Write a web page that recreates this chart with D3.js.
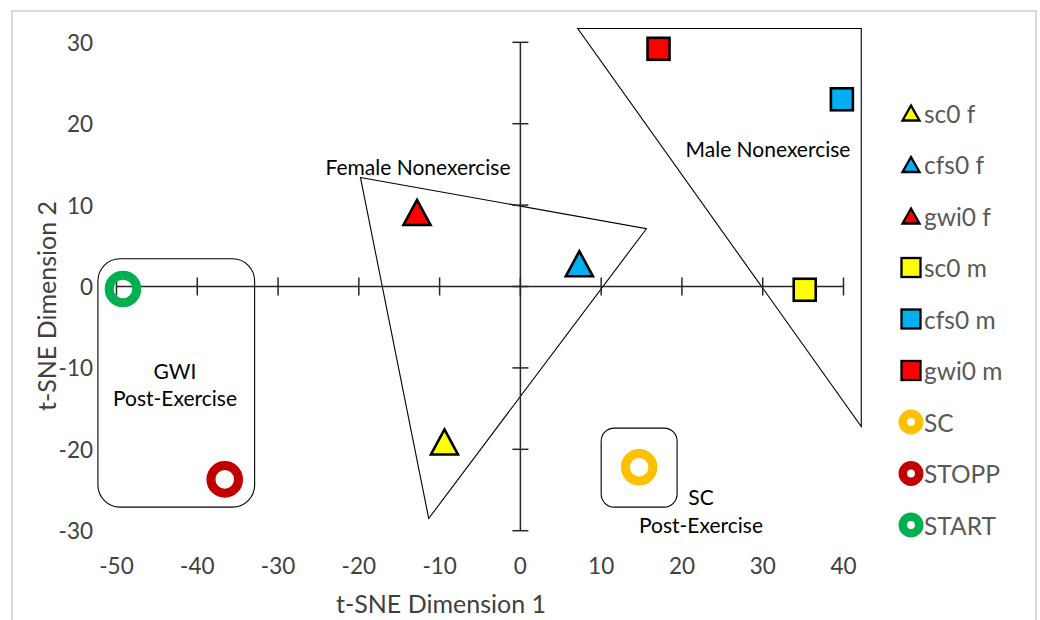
<!DOCTYPE html>
<html>
<head>
<meta charset="utf-8">
<script src="https://cdn.jsdelivr.net/npm/d3@7"></script>
<style>
  html, body { margin: 0; padding: 0; background: #fff; }
  svg { display: block; }
  text { font-family: Lato, "Open Sans", sans-serif; }
</style>
</head>
<body>
<svg id="chart" width="1040" height="620"></svg>
<script>
// t-SNE embedding of group centroids
const seriesNames = ["sc0 f", "cfs0 f", "gwi0 f", "sc0 m", "cfs0 m", "gwi0 m", "SC", "STOPP", "START"];
const dim1Values  = [-9.4, 7.3, -12.8, 35.2, 39.8, 17.1, 14.7, -36.6, -49.2];
const dim2Values  = [-19.1, 2.8, 9.1, -0.4, 23.0, 29.2, -22.2, -23.7, -0.3];
const markerKinds = ["triangle", "triangle", "triangle", "square", "square", "square", "ring", "ring", "ring"];
const markerColors = ["#FFFF00", "#00B0F0", "#FF0000", "#FFFF00", "#00B0F0", "#FF0000", "#FFC000", "#C00000", "#00B050"];

const xTickValues = [-50, -40, -30, -20, -10, 0, 10, 20, 30, 40];
const yTickValues = [-30, -20, -10, 0, 10, 20, 30];

// Grouping outlines, in data units
const femaleRegion = [[-19.8, 13.4], [15.6, 7.1], [-11.35, -28.5]];
const maleRegion   = [[7.1, 31.7], [42.2, 31.7], [42.2, -17.2]];
const gwiBox = { x0: -52.3, x1: -32.9, y0: 3.4, y1: -27.1 };
const scBox  = { x0: 10.0, x1: 19.4, y0: -17.4, y1: -27.1 };

const svg = d3.select("#chart");

// Outer chart frame
svg.append("rect")
  .attr("x", 12).attr("y", 11).attr("width", 1024).attr("height", 640)
  .attr("fill", "#fff").attr("stroke", "#d9d9d9").attr("stroke-width", 2);

const x = d3.scaleLinear().domain([-50, 40]).range([116.5, 843.5]);
const y = d3.scaleLinear().domain([-30, 30]).range([530.7, 42.3]);

const axisColor = "#262626";

// Region outlines
const lineGen = d3.line().x(d => x(d[0])).y(d => y(d[1]));
svg.append("path")
  .attr("d", lineGen(femaleRegion) + "Z")
  .attr("fill", "none").attr("stroke", "#000").attr("stroke-width", 1.1);
svg.append("path")
  .attr("d", lineGen(maleRegion) + "Z")
  .attr("fill", "none").attr("stroke", "#000").attr("stroke-width", 1.1);

// Horizontal axis through y = 0, ticks crossing the line
const xAxis = svg.append("g").attr("transform", `translate(0,${y(0)})`);
xAxis.append("line")
  .attr("x1", x(-50)).attr("x2", x(40))
  .attr("stroke", axisColor).attr("stroke-width", 1.5);
xAxis.selectAll("line.tick").data(xTickValues).join("line")
  .attr("class", "tick")
  .attr("x1", d => x(d)).attr("x2", d => x(d))
  .attr("y1", -9).attr("y2", 9)
  .attr("stroke", axisColor).attr("stroke-width", 1.5);

// Vertical axis through x = 0
const yAxis = svg.append("g").attr("transform", `translate(${x(0)},0)`);
yAxis.append("line")
  .attr("y1", y(-30)).attr("y2", y(30))
  .attr("stroke", axisColor).attr("stroke-width", 1.5);
yAxis.selectAll("line.tick").data(yTickValues).join("line")
  .attr("class", "tick")
  .attr("y1", d => y(d)).attr("y2", d => y(d))
  .attr("x1", -8).attr("x2", 8)
  .attr("stroke", axisColor).attr("stroke-width", 1.5);

// Tick labels along the bottom and the left edge
svg.append("g").selectAll("text").data(xTickValues).join("text")
  .attr("x", d => x(d)).attr("y", 565)
  .attr("text-anchor", "middle").attr("dominant-baseline", "central")
  .attr("font-size", 22.5).attr("fill", "#404040")
  .text(d => d);
svg.append("g").selectAll("text").data(yTickValues).join("text")
  .attr("x", 93).attr("y", d => y(d))
  .attr("text-anchor", "end").attr("dominant-baseline", "central")
  .attr("font-size", 22.5).attr("fill", "#404040")
  .text(d => d);

// Axis titles
svg.append("text")
  .attr("x", 441).attr("y", 603)
  .attr("text-anchor", "middle").attr("dominant-baseline", "central")
  .attr("font-size", 25).attr("fill", "#404040")
  .text("t-SNE Dimension 1");
svg.append("text")
  .attr("transform", "translate(46,306) rotate(-90)")
  .attr("text-anchor", "middle").attr("dominant-baseline", "central")
  .attr("font-size", 25).attr("fill", "#404040")
  .text("t-SNE Dimension 2");

// Rounded boxes for post-exercise groups
function roundBox(b, r) {
  svg.append("rect")
    .attr("x", x(b.x0)).attr("y", y(b.y0))
    .attr("width", x(b.x1) - x(b.x0)).attr("height", y(b.y1) - y(b.y0))
    .attr("rx", r).attr("ry", r)
    .attr("fill", "none").attr("stroke", "#000").attr("stroke-width", 1.1);
}
roundBox(gwiBox, 22);
roundBox(scBox, 13);

// Annotation labels
const notes = [
  { t: "Female Nonexercise", cx: 418, cy: 166 },
  { t: "Male Nonexercise", cx: 768, cy: 148 },
  { t: "GWI", cx: 175, cy: 370 },
  { t: "Post-Exercise", cx: 175, cy: 397 },
  { t: "SC", cx: 701, cy: 496 },
  { t: "Post-Exercise", cx: 701, cy: 524 }
];
svg.append("g").selectAll("text").data(notes).join("text")
  .attr("x", d => d.cx).attr("y", d => d.cy)
  .attr("text-anchor", "middle").attr("dominant-baseline", "central")
  .attr("font-size", 21).attr("fill", "#000")
  .text(d => d.t);

// Marker drawing
function drawMarker(g, kind, color, size) {
  if (kind === "triangle") {
    const w = size.tw, h = size.th;
    g.append("path")
      .attr("d", `M0,${-h / 2}L${w / 2},${h / 2}L${-w / 2},${h / 2}Z`)
      .attr("fill", color).attr("stroke", "#000")
      .attr("stroke-width", size.sw).attr("stroke-linejoin", "miter");
  } else if (kind === "square") {
    const s = size.sq;
    g.append("rect")
      .attr("x", -s / 2).attr("y", -s / 2).attr("width", s).attr("height", s)
      .attr("fill", color).attr("stroke", "#000").attr("stroke-width", size.sw);
  } else {
    g.append("circle")
      .attr("r", size.rr)
      .attr("fill", "none").attr("stroke", color).attr("stroke-width", size.rw);
  }
}

const points = seriesNames.map((n, i) => ({
  name: n, dx: dim1Values[i], dy: dim2Values[i], kind: markerKinds[i], color: markerColors[i]
}));

const plotSize = { tw: 27, th: 25, sq: 22, rr: 13.8, rw: 9, sw: 2.6 };
svg.append("g").selectAll("g").data(points).join("g")
  .attr("transform", d => `translate(${x(d.dx)},${y(d.dy)})`)
  .each(function (d) { drawMarker(d3.select(this), d.kind, d.color, plotSize); });

// Legend
const legendSize = { tw: 17, th: 15, sq: 19, rr: 8.2, rw: 8.6, sw: 2.3 };
const legend = svg.append("g").selectAll("g").data(points).join("g")
  .attr("transform", (d, i) => `translate(911,${113 + i * 51.5})`);
legend.each(function (d) { drawMarker(d3.select(this), d.kind, d.color, legendSize); });
legend.append("text")
  .attr("x", 13).attr("y", 0)
  .attr("dominant-baseline", "central")
  .attr("font-size", 24.5).attr("fill", "#595959")
  .text(d => d.name);
</script>
</body>
</html>
